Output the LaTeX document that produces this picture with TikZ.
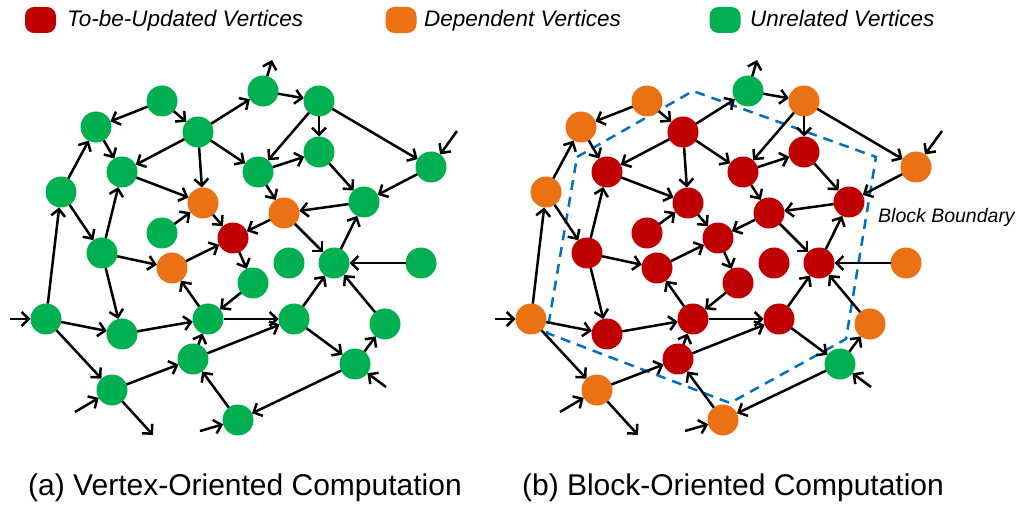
\documentclass[tikz,border=0pt]{standalone}
\usepackage{fontspec}
\setmainfont{Liberation Sans}
\usetikzlibrary{arrows.meta}
\definecolor{vred}{HTML}{C00000}
\definecolor{vorange}{HTML}{EA7114}
\definecolor{vgreen}{HTML}{00B050}
\definecolor{vblue}{HTML}{0070C0}
\begin{document}
\begin{tikzpicture}[x=1pt,y=-1pt,
  vtx/.style={circle,minimum size=31pt,inner sep=0pt,outer sep=0pt,draw=none},
  rv/.style={vtx,fill=vred},
  ov/.style={vtx,fill=vorange},
  gv/.style={vtx,fill=vgreen},
  edge/.style={line width=2.5pt,-{Straight Barb[length=7pt,width=14pt,line width=2.5pt]}},
  legbox/.style={rounded corners=9pt,minimum width=31pt,minimum height=26pt,inner sep=0pt},
  legtext/.style={anchor=base west,inner sep=0pt,font=\fontsize{22.5}{26}\selectfont\itshape},
  captext/.style={anchor=base,inner sep=0pt,font=\fontsize{30}{36}\selectfont},
  bound/.style={draw=vblue,line width=2.5pt,dash pattern=on 10pt off 7pt}]
\useasboundingbox (0,0) rectangle (1021,513);
% legend
\node[legbox,fill=vred] (lr) at (40.5,20) {};
\node[legtext] (ltr) at (67,27) {To-be-Updated Vertices};
\node[legbox,fill=vorange] (lo) at (401,20) {};
\node[legtext] (lto) at (424,27) {Dependent Vertices};
\node[legbox,fill=vgreen] (lg) at (725,20) {};
\node[legtext] (ltg) at (750,27) {Unrelated Vertices};
% boundary (right graph)
\draw[bound] (577,157) -- (693,91) -- (876,157) -- (846,339) -- (730,403) -- (547,333) -- cycle;
% left graph nodes
\begin{scope}
\node[gv] (lA) at (162,101) {};
\node[gv] (lB) at (96,127) {};
\node[gv] (lC) at (198,132) {};
\node[gv] (lD) at (122,172) {};
\node[gv] (lE) at (61,192) {};
\node[ov] (lF) at (203,203) {};
\node[gv] (lG) at (162,233) {};
\node[rv] (lH) at (233,238) {};
\node[gv] (lI) at (102,253) {};
\node[ov] (lJ) at (172,268) {};
\node[gv] (lK) at (46,319) {};
\node[gv] (lL) at (122,334) {};
\node[gv] (lM) at (208,319) {};
\node[gv] (lN) at (193,359) {};
\node[gv] (lO) at (112,390) {};
\node[gv] (lP) at (238,420) {};
\node[gv] (lQ) at (263,91) {};
\node[gv] (lR) at (319,101) {};
\node[gv] (lS) at (258,172) {};
\node[gv] (lT) at (319,152) {};
\node[gv] (lU) at (431,167) {};
\node[gv] (lV) at (364,202) {};
\node[ov] (lW) at (284,213) {};
\node[gv] (lX) at (253,283) {};
\node[gv] (lY) at (289,263) {};
\node[gv] (lZ) at (334,263) {};
\node[gv] (lAA) at (421,263) {};
\node[gv] (lBB) at (294,319) {};
\node[gv] (lCC) at (385,324) {};
\node[gv] (lDD) at (355,364) {};
\coordinate (lQout) at (272,60);
\coordinate (lUin) at (457,131);
\coordinate (lKin) at (10,319);
\coordinate (lOin) at (75,412);
\coordinate (lOout) at (153,435);
\coordinate (lPin) at (200,431);
\coordinate (lDDin) at (386,387);
\end{scope}
% right graph nodes
\begin{scope}[xshift=485pt]
\node[ov] (rA) at (162,101) {};
\node[ov] (rB) at (96,127) {};
\node[rv] (rC) at (198,132) {};
\node[rv] (rD) at (122,172) {};
\node[ov] (rE) at (61,192) {};
\node[rv] (rF) at (203,203) {};
\node[rv] (rG) at (162,233) {};
\node[rv] (rH) at (233,238) {};
\node[rv] (rI) at (102,253) {};
\node[rv] (rJ) at (172,268) {};
\node[ov] (rK) at (46,319) {};
\node[rv] (rL) at (122,334) {};
\node[rv] (rM) at (208,319) {};
\node[rv] (rN) at (193,359) {};
\node[ov] (rO) at (112,390) {};
\node[ov] (rP) at (238,420) {};
\node[gv] (rQ) at (263,91) {};
\node[ov] (rR) at (319,101) {};
\node[rv] (rS) at (258,172) {};
\node[rv] (rT) at (319,152) {};
\node[ov] (rU) at (431,167) {};
\node[rv] (rV) at (364,202) {};
\node[rv] (rW) at (284,213) {};
\node[rv] (rX) at (253,283) {};
\node[rv] (rY) at (289,263) {};
\node[rv] (rZ) at (334,263) {};
\node[ov] (rAA) at (421,263) {};
\node[rv] (rBB) at (294,319) {};
\node[ov] (rCC) at (385,324) {};
\node[gv] (rDD) at (355,364) {};
\coordinate (rQout) at (272,60);
\coordinate (rUin) at (457,131);
\coordinate (rKin) at (10,319);
\coordinate (rOin) at (75,412);
\coordinate (rOout) at (153,435);
\coordinate (rPin) at (200,431);
\coordinate (rDDin) at (386,387);
\end{scope}
% edges for both graphs
\foreach \p in {l,r}{
  \foreach \a/\b in {A/B,A/C,C/Q,Q/R,C/D,C/F,C/S,B/D,E/B,E/I,K/E,D/F,I/D,G/F,F/H,
    R/S,R/T,R/U,S/T,S/W,T/V,U/V,V/W,W/H,W/Z,Z/V,AA/Z,H/X,J/H,I/J,X/M,M/J,K/L,L/M,
    I/L,K/O,O/N,N/M,M/BB,N/BB,BB/Z,BB/DD,P/N,DD/P,DD/CC,CC/Z,
    Q/Qout,Uin/U,Kin/K,Oin/O,O/Oout,Pin/P,DDin/DD}{
    \draw[edge] (\p\a) -- (\p\b);
  }
}
\node[anchor=base west,inner sep=0pt,font=\fontsize{19.5}{23}\selectfont\itshape] (bb) at (878,223) {Block Boundary};
% captions
\node[captext] (capa) at (245,495) {(a) Vertex-Oriented Computation};
\node[captext] (capb) at (733,495) {(b) Block-Oriented Computation};
\end{tikzpicture}
\end{document}
